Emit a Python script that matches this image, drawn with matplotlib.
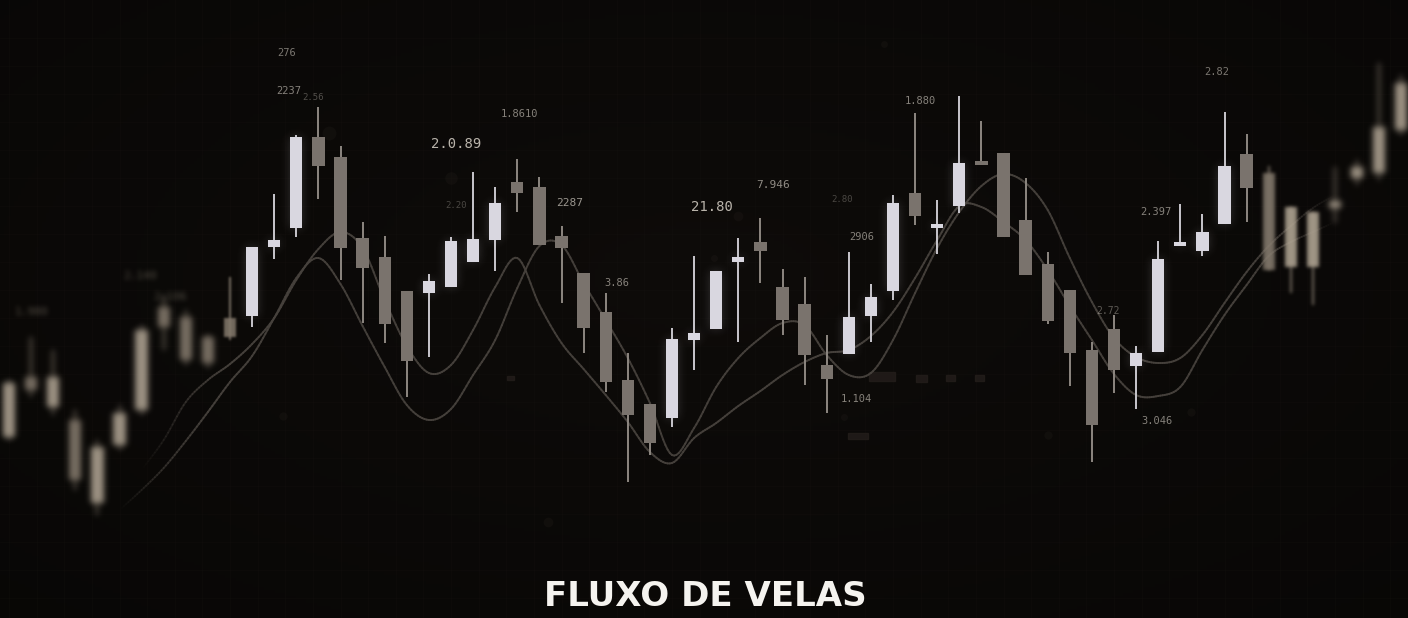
import numpy as np
import matplotlib.pyplot as plt
from matplotlib.patches import Rectangle
from matplotlib.collections import LineCollection, PatchCollection

# candle data (open, high, low, close), one entry per session
opens  = [18.1, 24.1, 21.1, 19.8, 11.5, 17.3, 20.8, 31.1, 30.1, 28.1,
          30.0, 30.2, 37.1, 39.0, 48.1, 46.1, 38.0, 36.1, 32.7, 32.5,
          33.1, 35.6, 37.8, 43.6, 43.1, 38.2, 34.5, 30.6, 23.8, 21.4,
          20.0, 27.8, 28.9, 35.6, 37.6, 33.1, 31.4, 25.3, 26.4, 30.2,
          32.7, 42.5, 39.0, 41.2, 45.5, 46.5, 39.8, 35.4, 32.8, 26.8,
          28.9, 25.2, 26.6, 37.2, 36.7, 39.4, 46.4, 44.5, 35.1, 35.1,
          41.0, 44.0, 44.5, 48.8]
highs  = [23.8, 28.1, 26.8, 20.8, 17.8, 21.3, 29.3, 32.3, 30.8, 28.3,
          34.1, 37.1, 42.4, 48.3, 51.1, 47.2, 39.6, 38.2, 32.7, 34.4,
          38.1, 44.6, 43.1, 45.9, 44.1, 39.2, 34.5, 32.5, 26.5, 21.4,
          29.0, 36.2, 34.7, 38.0, 40.0, 34.9, 34.1, 28.3, 36.6, 33.4,
          42.3, 50.5, 41.8, 52.2, 49.7, 46.5, 44.0, 36.6, 32.8, 27.6,
          30.3, 27.2, 37.7, 41.4, 40.4, 50.6, 48.4, 45.2, 41.1, 40.6,
          45.1, 45.8, 55.5, 54.3]
lows   = [17.8, 22.1, 20.3, 12.8, 10.3, 16.8, 20.3, 26.8, 25.3, 25.0,
          27.8, 29.1, 35.9, 38.1, 41.9, 33.8, 29.5, 27.5, 22.1, 26.1,
          33.1, 35.6, 34.7, 40.6, 37.3, 31.5, 26.5, 22.6, 13.6, 16.3,
          19.1, 24.8, 28.9, 27.6, 33.5, 28.3, 23.3, 20.5, 26.4, 27.6,
          31.8, 39.3, 36.4, 40.5, 45.3, 38.1, 34.3, 29.4, 23.2, 15.6,
          22.5, 20.9, 26.6, 37.2, 36.2, 39.4, 39.6, 34.8, 32.5, 31.3,
          39.5, 43.3, 43.8, 48.3]
closes = [23.5, 22.8, 24.1, 13.8, 17.1, 20.5, 28.8, 29.1, 25.8, 25.5,
          28.1, 37.1, 37.8, 48.1, 45.2, 37.0, 35.0, 29.4, 25.7, 33.7,
          37.7, 37.9, 41.5, 42.5, 37.3, 37.0, 29.0, 23.6, 20.3, 17.5,
          27.9, 28.5, 34.7, 36.1, 36.7, 29.8, 26.3, 23.9, 30.1, 32.1,
          41.5, 40.2, 39.3, 45.5, 45.3, 38.1, 34.3, 29.7, 26.5, 19.3,
          24.8, 26.5, 35.9, 37.6, 38.6, 45.2, 43.0, 34.8, 41.1, 40.6,
          41.7, 45.1, 49.1, 53.5]

# two moving average curves
ma_fast_start = 5
ma_fast = [10.8, 12.8, 15.0, 17.7, 20.6, 23.6, 26.2, 30.0, 34.0, 36.0,
           33.4, 29.2, 25.1, 21.3, 19.8, 20.9, 24.3, 27.8, 33.0, 37.2,
           37.3, 33.5, 29.8, 26.0, 21.5, 16.3, 19.0, 23.1, 26.0, 28.0,
           29.5, 29.3, 26.3, 24.3, 24.5, 27.8, 32.5, 37.0, 40.6, 43.2,
           44.4, 43.5, 40.8, 36.0, 31.6, 28.0, 26.1, 25.5, 26.0, 28.3,
           31.5, 34.6, 37.2, 39.2, 41.0, 42.3]
ma_slow_start = 6
ma_slow = [14.8, 17.8, 21.6, 23.8, 25.4, 27.4, 30.0, 33.8, 36.9, 38.6,
           37.0, 31.8, 27.2, 24.5, 25.3, 28.8, 33.1, 36.0, 31.3, 27.5,
           24.9, 22.3, 19.6, 16.6, 15.5, 18.0, 19.5, 21.2, 22.7, 24.3,
           25.6, 26.5, 26.8, 28.2, 30.6, 34.0, 37.8, 41.2, 41.1, 39.6,
           37.8, 34.8, 31.2, 27.8, 24.4, 22.3, 22.2, 23.1, 26.8, 30.3,
           33.3, 36.2, 37.6, 38.6, 39.6]

# floating price tags
tags = ["276", "2237", "2.56", "2.0.89", "1.8610", "2.20", "2287", "3.86",
        "21.80", "7.946", "2.80", "2906", "1.104", "1.880", "2.82",
        "2.397", "2.72", "3.046"]

W, H = 1408, 618
x0, dx = 9.0, 22.1


def blur(sigma):
    def f(img, dpi):
        s = sigma * dpi / 100.0
        pad = int(np.ceil(3 * s))
        src = np.pad(img, ((pad, pad), (pad, pad), (0, 0)))
        a = src[..., 3:4]
        pm = np.concatenate([src[..., :3] * a, a], axis=2)
        k = np.exp(-0.5 * (np.arange(-pad, pad + 1) / s) ** 2)
        k /= k.sum()
        tmp = np.zeros_like(pm)
        for j, w in enumerate(k):
            tmp += w * np.roll(pm, j - pad, axis=0)
        out = np.zeros_like(pm)
        for j, w in enumerate(k):
            out += w * np.roll(tmp, j - pad, axis=1)
        al = out[..., 3:4]
        rgb = np.where(al > 1e-4, out[..., :3] / np.maximum(al, 1e-4), 0)
        return np.concatenate([np.clip(rgb, 0, 1), al], axis=2), -pad, -pad
    return f


def catmull(xs, ys, n=10):
    xs = np.asarray(xs, float)
    ys = np.asarray(ys, float)
    px = np.concatenate([[2 * xs[0] - xs[1]], xs, [2 * xs[-1] - xs[-2]]])
    py = np.concatenate([[2 * ys[0] - ys[1]], ys, [2 * ys[-1] - ys[-2]]])
    ox, oy = [], []
    for i in range(1, len(px) - 2):
        for t in np.linspace(0, 1, n, endpoint=False):
            t2, t3 = t * t, t * t * t
            for p, o in ((px, ox), (py, oy)):
                o.append(0.5 * (2 * p[i] + (-p[i - 1] + p[i + 1]) * t
                                + (2 * p[i - 1] - 5 * p[i] + 4 * p[i + 1] - p[i + 2]) * t2
                                + (-p[i - 1] + 3 * p[i] - 3 * p[i + 1] + p[i + 2]) * t3))
    ox.append(xs[-1])
    oy.append(ys[-1])
    return np.array(ox), np.array(oy)


fig = plt.figure(figsize=(W / 100, H / 100), dpi=100)
fig.patch.set_facecolor('#0a0807')
ax = fig.add_axes([0, 0, 1, 1])
ax.set_xlim(-x0 / dx, (W - x0) / dx)
ax.set_ylim(0, 61.8)
ax.axis('off')

# background: soft vignette
yy, xx = np.mgrid[0:1:200j, 0:1:400j]
r = np.sqrt(((xx - 0.5) / 0.75) ** 2 + ((yy - 0.55) / 0.8) ** 2)
v = np.clip(1 - r, 0, 1)
bg = np.zeros((200, 400, 3))
bg[..., 0] = 0.032 + 0.022 * v
bg[..., 1] = 0.027 + 0.018 * v
bg[..., 2] = 0.022 + 0.015 * v
ax.imshow(bg, extent=[*ax.get_xlim(), 0, 61.8], aspect='auto', zorder=0,
          origin='lower')

# faint grid
for gx in np.arange(0, 64, 1.25):
    ax.axvline(gx, color='#1a1613', lw=0.5, alpha=0.3, zorder=0.5)
for gy in np.arange(2, 60, 2.8):
    ax.axhline(gy, color='#1a1613', lw=0.5, alpha=0.3, zorder=0.5)

# bokeh dots and dim blocks
dots = [(20.0, 44.0, 9), (39.6, 57.4, 5), (33.0, 40.2, 7), (47.0, 18.3, 6),
        (37.8, 20.1, 5), (12.4, 20.2, 6), (24.4, 9.6, 7), (31.9, 36.0, 5),
        (14.5, 48.5, 10), (53.5, 20.6, 6)]
for cx, cy, s in dots:
    ax.plot(cx, cy, 'o', ms=s, color='#221d1a', alpha=0.3, mec='none', zorder=1)
blocks = [(39.5, 24.1, 1.2, 0.9), (41.3, 24.0, 0.5, 0.7), (42.6, 24.0, 0.4, 0.6),
          (43.9, 24.0, 0.4, 0.6), (38.4, 18.2, 0.9, 0.6), (22.7, 24.0, 0.3, 0.4)]
for bx, by, bw, bh in blocks:
    ax.add_patch(Rectangle((bx - bw / 2, by - bh / 2), bw, bh, color='#241e1b',
                           alpha=0.8, zorder=1))

# moving averages with faded ends
for start, vals in ((ma_fast_start, ma_fast), (ma_slow_start, ma_slow)):
    idx = np.arange(start, start + len(vals))
    sx, sy = catmull(idx, vals)
    pts = np.column_stack([sx, sy]).reshape(-1, 1, 2)
    segs = np.concatenate([pts[:-1], pts[1:]], axis=1)
    mid = 0.5 * (sx[:-1] + sx[1:])
    fade = np.clip((mid - idx[0]) / 4.0, 0, 1) * np.clip((idx[-1] - mid) / 4.0, 0, 1)
    cols = np.zeros((len(mid), 4))
    cols[:, :3] = (0.28, 0.26, 0.24)
    cols[:, 3] = 0.9 * fade
    ax.add_collection(LineCollection(segs, colors=cols, linewidths=1.4,
                                     capstyle='round', zorder=2))

# candles grouped by depth of field
o = np.array(opens)
c = np.array(closes)
hi = np.array(highs)
lo = np.array(lows)
n = len(o)
bw = 0.56
blur_of = np.zeros(n)
blur_of[:10] = 3.2
blur_of[10] = 1.2
blur_of[57:60] = 1.8
blur_of[60:] = 3.2

for level in sorted(set(blur_of)):
    ids = [i for i in range(n) if blur_of[i] == level]
    soft = level > 0
    wick_segs, wick_cols, bodies, body_cols = [], [], [], []
    for i in ids:
        up = c[i] >= o[i]
        if soft:
            bc = '#b3a796' if up else '#867b6e'
            wc = '#9a8f80'
        else:
            bc = '#d9d7e0' if up else '#7a736d'
            wc = '#c9c7cd' if up else '#8d8781'
        wick_segs.append([(i, lo[i]), (i, hi[i])])
        wick_cols.append(wc)
        b0, b1 = min(o[i], c[i]), max(o[i], c[i])
        bodies.append(Rectangle((i - bw / 2, b0), bw, max(b1 - b0, 0.35)))
        body_cols.append(bc)
    wl = LineCollection(wick_segs, colors=wick_cols, linewidths=1.4, zorder=3)
    bp = PatchCollection(bodies, facecolors=body_cols, edgecolors='none', zorder=4)
    if soft:
        wl.set_alpha(0.8)
        bp.set_alpha(0.85)
        wl.set_agg_filter(blur(level))
        bp.set_agg_filter(blur(level))
    else:
        glow = PatchCollection([Rectangle(b.get_xy(), b.get_width(), b.get_height())
                                for b, col in zip(bodies, body_cols) if col == '#d9d7e0'],
                               facecolors='#d9d7e0', edgecolors='none', alpha=0.2,
                               zorder=2.5)
        glow.set_agg_filter(blur(5))
        ax.add_collection(glow)
    ax.add_collection(wl)
    ax.add_collection(bp)

# price tags placed in pixel space
tag_pos = [(287, 53, 7.5, 0.55), (289, 91, 7.5, 0.6), (313, 98, 6.5, 0.35),
           (456, 144, 10, 0.85), (519, 114, 7.5, 0.6), (456, 206, 6.5, 0.3),
           (570, 203, 8, 0.7), (617, 283, 7.5, 0.6), (712, 207, 10, 0.85),
           (773, 185, 8, 0.65), (842, 200, 6.5, 0.3), (862, 237, 7.5, 0.6),
           (856, 399, 7.5, 0.6), (920, 101, 7.5, 0.6), (1217, 72, 7.5, 0.55),
           (1156, 212, 7.5, 0.6), (1108, 311, 7, 0.4), (1157, 421, 7.5, 0.6)]
for t, (px, py, fs, a) in zip(tags, tag_pos):
    fig.text(px / W, 1 - py / H, t, ha='center', va='center', fontsize=fs,
             color='#d8d2c8', alpha=a, family='DejaVu Sans Mono')

for t, (px, py) in zip(["2.140", "2.106", "1.980"], [(140, 276), (170, 297), (32, 312)]):
    tt = fig.text(px / W, 1 - py / H, t, ha='center', va='center', fontsize=8,
                  color='#b8ab98', alpha=0.45, family='DejaVu Sans Mono')
    tt.set_agg_filter(blur(2.5))

fig.text(705 / W, 1 - 596 / H, "FLUXO DE VELAS", ha='center', va='center',
         fontsize=24.5, fontweight='bold', color='#f5f3ef', family='DejaVu Sans')

fig.savefig('out.png', dpi=100, facecolor=fig.get_facecolor())
